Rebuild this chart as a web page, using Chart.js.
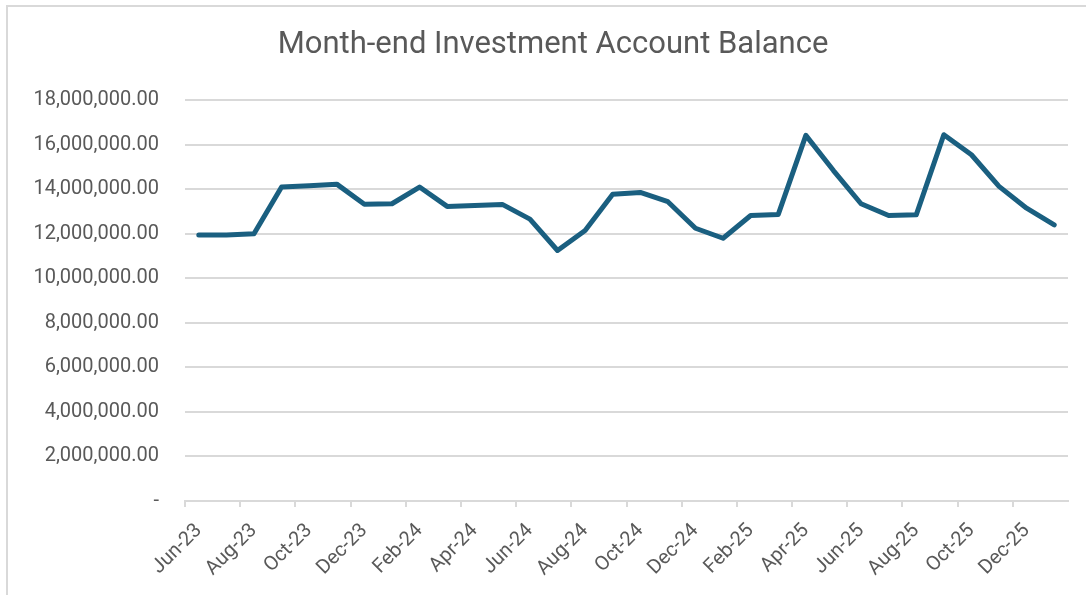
<!DOCTYPE html>
<html>
<head>
<meta charset="utf-8">
<script src="https://cdn.jsdelivr.net/npm/chart.js@4"></script>
<style>
  body { margin: 0; background: #fff; }
  #wrap { position: relative; width: 1086px; height: 595px; overflow: hidden; }
  #frame { position: absolute; left: 6px; top: 5px; width: 1100px; height: 620px; border: 2px solid #d9d9d9; box-sizing: border-box; }
  canvas { position: absolute; left: 0; top: 0; }
</style>
</head>
<body>
<div id="wrap">
  <div id="frame"></div>
  <canvas id="balanceChart" width="1086" height="595"></canvas>
</div>
<script>
// Month labels and month-end balances
const months = ["Jun-23", "Jul-23", "Aug-23", "Sep-23", "Oct-23", "Nov-23", "Dec-23", "Jan-24",
  "Feb-24", "Mar-24", "Apr-24", "May-24", "Jun-24", "Jul-24", "Aug-24", "Sep-24",
  "Oct-24", "Nov-24", "Dec-24", "Jan-25", "Feb-25", "Mar-25", "Apr-25", "May-25",
  "Jun-25", "Jul-25", "Aug-25", "Sep-25", "Oct-25", "Nov-25", "Dec-25", "Jan-26"];
const balance = [11950000, 11950000, 12000000, 14100000, 14160000, 14230000, 13330000, 13350000,
  14100000, 13230000, 13270000, 13320000, 12660000, 11250000, 12150000, 13780000,
  13860000, 13440000, 12250000, 11800000, 12820000, 12870000, 16420000, 14840000,
  13350000, 12820000, 12850000, 16450000, 15550000, 14130000, 13150000, 12400000];
const yTicks = [0, 2000000, 4000000, 6000000, 8000000, 10000000, 12000000, 14000000, 16000000, 18000000];

const textGrey = '#595959';

// shift the title so it sits where Excel put it
const titleShift = {
  id: 'titleShift',
  afterLayout(chart) {
    if (chart.titleBlock) chart.titleBlock.left = 38;
  }
};

new Chart(document.getElementById('balanceChart').getContext('2d'), {
  type: 'line',
  data: {
    labels: months,
    datasets: [{
      label: 'Balance',
      data: balance,
      borderColor: '#1a5f80',
      borderWidth: 5,
      borderJoinStyle: 'round',
      borderCapStyle: 'round',
      pointRadius: 0,
      tension: 0
    }]
  },
  options: {
    responsive: false,
    animation: false,
    layout: { padding: { left: 0, right: 18, top: 0, bottom: 0 } },
    plugins: {
      legend: { display: false },
      tooltip: { enabled: false },
      title: {
        display: true,
        text: 'Month-end Investment Account Balance',
        color: textGrey,
        font: { family: 'Roboto', size: 31, weight: 'normal' },
        padding: { top: 27, bottom: 36 }
      }
    },
    scales: {
      x: {
        offset: true,
        grid: {
          offset: true,
          drawOnChartArea: false,
          drawTicks: true,
          tickLength: 6,
          color: ctx => (ctx.index % 2 === 0 ? '#d9d9d9' : 'rgba(0,0,0,0)'),
          lineWidth: 2
        },
        border: { display: true, color: '#d9d9d9', width: 2 },
        ticks: {
          autoSkip: false,
          maxRotation: 45,
          minRotation: 45,
          padding: 12,
          color: textGrey,
          font: { family: 'Roboto', size: 20 },
          callback: function (val, i) { return i % 2 === 0 ? this.getLabelForValue(val) : ''; }
        },
        afterFit: scale => { scale.height = 94; }
      },
      y: {
        min: 0,
        max: 18000000,
        afterBuildTicks: scale => { scale.ticks = yTicks.map(v => ({ value: v })); },
        grid: { color: '#d9d9d9', lineWidth: 2, drawTicks: false },
        border: { display: false },
        ticks: {
          padding: 26,
          color: textGrey,
          font: { family: 'Roboto', size: 20 },
          callback: v => (v === 0 ? '-' : v.toLocaleString('en-US', { minimumFractionDigits: 2, maximumFractionDigits: 2 }))
        },
        afterFit: scale => { scale.width = 185; }
      }
    }
  },
  plugins: [titleShift]
});
</script>
</body>
</html>
